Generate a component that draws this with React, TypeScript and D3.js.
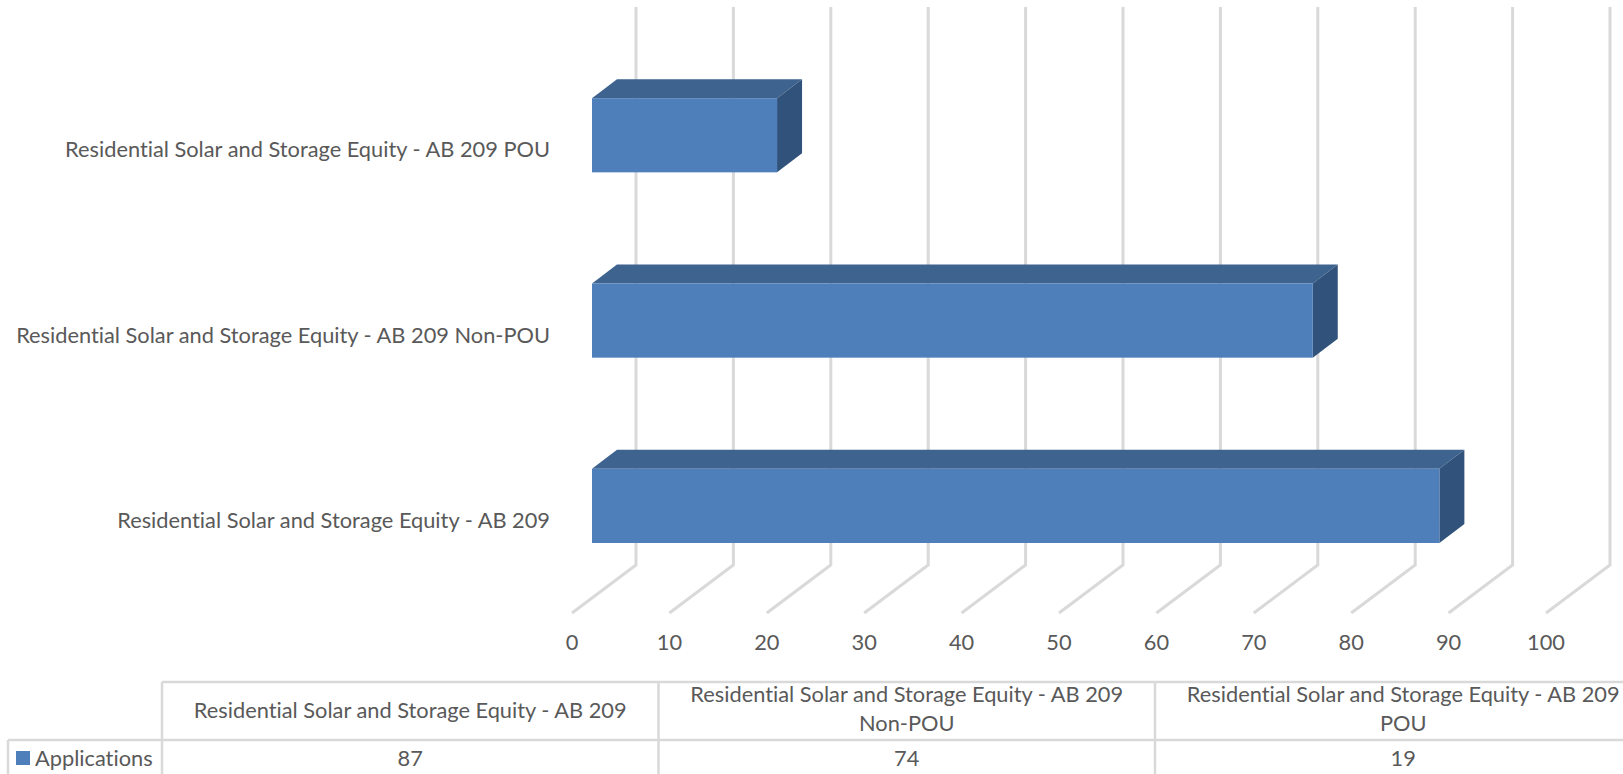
import React from 'react';
import * as d3 from 'd3';

const categories = [
  'Residential Solar and Storage Equity - AB 209 POU',
  'Residential Solar and Storage Equity - AB 209 Non-POU',
  'Residential Solar and Storage Equity - AB 209',
];
const values = [19, 74, 87];
const ticks = [0, 10, 20, 30, 40, 50, 60, 70, 80, 90, 100];
const seriesName = 'Applications';
// table columns run the other way round from the bars
const tableHeaders = [
  ['Residential Solar and Storage Equity - AB 209'],
  ['Residential Solar and Storage Equity - AB 209', 'Non-POU'],
  ['Residential Solar and Storage Equity - AB 209', 'POU'],
];
const tableValues = [87, 74, 19];

const W = 1623;
const H = 774;
const FONT = 'Lato, Carlito, sans-serif';
const FONT_SIZE = 21.8;
const TEXT = '#595959';
const GRID = '#d9d9d9';

// floor front edge -> back wall offset
const wallDx = 64;
const wallDy = 48;
const wallTop = 7;
const wallBottom = 565;
const floorY = wallBottom + wallDy;

// bar front plane sits part way into the box
const barDx = 20;
const depthX = 25;
const depthY = 19;

const x = d3.scaleLinear().domain([0, 100]).range([572, 1546]);
const y = d3.scaleBand<string>().domain(categories).range([42.6, 598.6]).paddingInner(0.6).paddingOuter(0.3);
const col = d3.scaleBand<number>().domain([0, 1, 2]).range([162, 1651.5]);

const tableTop = 682;
const tableMid = 740;
const tableLeft = 8;

const App: React.FC = () => {
  return (
    <svg
      width={W}
      height={H}
      style={{ position: 'fixed', left: 0, top: 0, background: '#fff', fontVariantLigatures: 'none' }}
      fontFamily={FONT}
    >
      {/* walls and floor ticks */}
      {ticks.map((t) => (
        <polyline
          key={t}
          points={`${x(t)},${floorY} ${x(t) + wallDx},${wallBottom} ${x(t) + wallDx},${wallTop}`}
          fill="none"
          stroke={GRID}
          strokeWidth={3}
        />
      ))}
      {ticks.map((t) => (
        <text key={t} x={x(t)} y={650} textAnchor="middle" fontSize={FONT_SIZE} fill={TEXT}>
          {t}
        </text>
      ))}

      {/* 3d bars */}
      {categories.map((c, i) => {
        const x0 = x(0) + barDx;
        const x1 = x(values[i]) + barDx;
        const y0 = y(c) as number;
        const h = y.bandwidth();
        return (
          <g key={c}>
            <path d={`M${x0},${y0}L${x0 + depthX},${y0 - depthY}L${x1 + depthX},${y0 - depthY}L${x1},${y0}Z`} fill="#3e638f" />
            <path d={`M${x1},${y0}L${x1 + depthX},${y0 - depthY}L${x1 + depthX},${y0 + h - depthY}L${x1},${y0 + h}Z`} fill="#31527a" />
            <rect x={x0} y={y0} width={x1 - x0} height={h} fill="#4e7fbb" />
            <text x={550} y={y0 + h / 2 + 22} textAnchor="end" fontSize={FONT_SIZE} fill={TEXT}>
              {c}
            </text>
          </g>
        );
      })}

      {/* data table, cut off by the bottom of the picture */}
      <g stroke={GRID} strokeWidth={2.5} fill="none">
        <line x1={162} x2={W} y1={tableTop} y2={tableTop} />
        <line x1={tableLeft} x2={W} y1={tableMid} y2={tableMid} />
        <line x1={tableLeft} x2={tableLeft} y1={tableMid} y2={H} />
        {[0, 1, 2].map((i) => (
          <line key={i} x1={col(i)} x2={col(i)} y1={tableTop} y2={H} />
        ))}
      </g>
      {tableHeaders.map((lines, i) => {
        const cx = (col(i) as number) + col.bandwidth() / 2;
        return (
          <g key={i}>
            {lines.map((l, j) => (
              <text
                key={j}
                x={cx}
                y={lines.length === 1 ? 718 : 702 + j * 29}
                textAnchor="middle"
                fontSize={FONT_SIZE}
                fill={TEXT}
              >
                {l}
              </text>
            ))}
            <text x={cx} y={766} textAnchor="middle" fontSize={FONT_SIZE} fill={TEXT}>
              {tableValues[i]}
            </text>
          </g>
        );
      })}
      <rect x={16} y={751} width={14} height={14} fill="#4e7fbb" />
      <text x={35} y={766} fontSize={FONT_SIZE} fill={TEXT}>
        {seriesName}
      </text>
    </svg>
  );
};

export default App;
